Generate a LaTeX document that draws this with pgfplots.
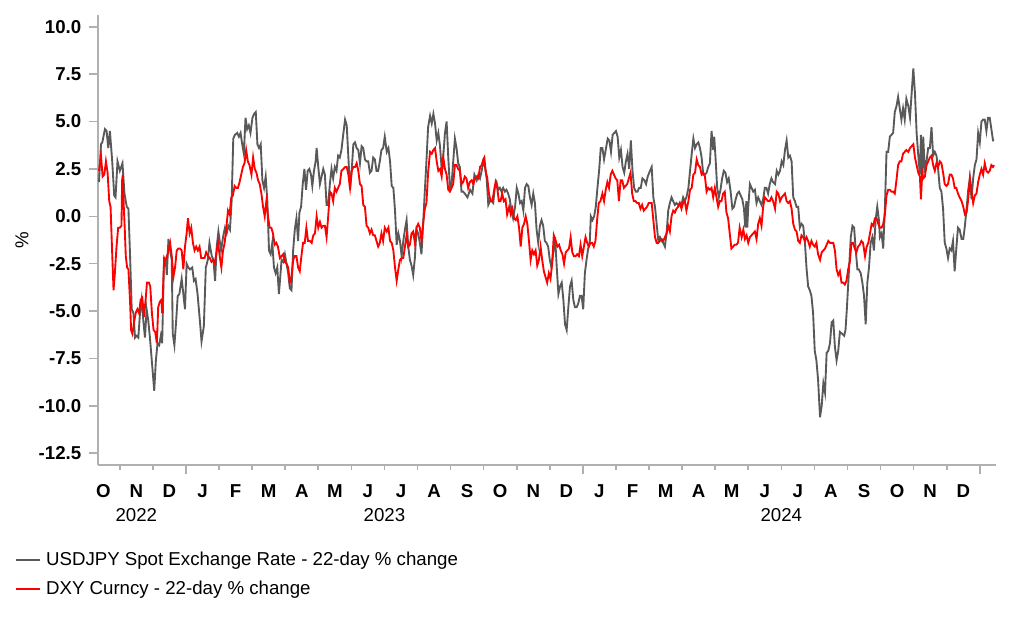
\documentclass[border=0pt]{standalone}
\usepackage{fontspec}
\setmainfont{Liberation Sans}
\usepackage{pgfplots}
\pgfplotsset{compat=1.18}
\usepackage{pgfplotstable}

\definecolor{jpygray}{RGB}{89,89,89}
\definecolor{dxyred}{RGB}{255,0,0}
\definecolor{axisgray}{RGB}{176,176,176}
\newcommand{\chartfont}{\fontsize{14}{16.5}\selectfont}

% USDJPY 22-day % change; x = months since 1 Jan 2023
\pgfplotstableread{
m v
-2.63 1.8
-2.57 3.8
-2.53 3.9
-2.45 4.6
-2.40 4.5
-2.35 3.6
-2.30 4.5
-2.23 2.9
-2.17 1.1
-2.13 1.0
-2.07 2.9
-2.00 2.4
-1.92 2.8
-1.86 1.2
-1.79 0.5
-1.74 0.4
-1.69 -2.1
-1.64 -4.9
-1.59 -5.1
-1.54 -6.4
-1.49 -6.3
-1.44 -6.4
-1.39 -5.1
-1.34 -4.4
-1.29 -5.5
-1.24 -6.4
-1.19 -4.9
-1.14 -5.5
-1.09 -6.4
-1.02 -7.9
-0.96 -9.2
-0.91 -7.6
-0.86 -6.7
-0.81 -6.8
-0.76 -6.3
-0.72 -6.7
-0.67 -2.7
-0.61 -2.3
-0.58 -3.1
-0.53 -1.2
-0.48 -1.8
-0.43 -2.3
-0.40 -6.2
-0.35 -6.8
-0.30 -5.6
-0.25 -4.2
-0.20 -4.1
-0.13 -3.3
-0.08 -4.1
-0.03 -4.9
0.02 -2.5
0.07 -2.7
0.12 -2.8
0.19 -2.7
0.24 -3.4
0.29 -3.3
0.35 -4.1
0.42 -5.5
0.47 -6.6
0.54 -5.8
0.60 -2.7
0.66 -2.3
0.71 -1.4
0.78 -2.1
0.83 -2.3
0.88 -3.4
0.93 -1.6
0.98 -0.8
1.06 -1.8
1.13 -1.0
1.18 -0.6
1.23 -0.9
1.28 -0.5
1.33 -0.7
1.38 0.8
1.43 4.1
1.48 4.3
1.55 4.4
1.60 4.2
1.65 4.4
1.70 3.8
1.75 3.3
1.80 5.2
1.85 4.6
1.90 4.8
1.95 4.4
2.01 5.2
2.06 5.4
2.11 5.5
2.16 3.8
2.21 3.6
2.26 3.8
2.31 1.9
2.36 1.5
2.41 2.1
2.46 0.8
2.51 -1.8
2.56 -2.0
2.61 -1.4
2.66 -2.7
2.71 -3.0
2.76 -2.7
2.81 -4.1
2.89 -2.3
2.94 -2.4
2.99 -2.0
3.04 -2.5
3.09 -3.0
3.14 -3.8
3.19 -3.9
3.24 -1.8
3.29 -0.7
3.34 -0.1
3.39 -1.3
3.43 0.2
3.48 0.5
3.53 1.7
3.58 2.5
3.63 1.4
3.68 2.4
3.73 2.5
3.78 2.2
3.82 1.6
3.87 2.4
3.92 2.9
3.95 3.6
4.00 2.6
4.05 1.7
4.10 2.1
4.15 2.5
4.20 2.2
4.25 0.6
4.30 0.6
4.35 1.7
4.40 2.5
4.45 2.0
4.50 2.6
4.55 2.4
4.60 3.2
4.65 3.1
4.70 3.5
4.76 4.4
4.81 5.1
4.86 4.8
4.91 3.1
4.96 1.4
5.01 2.4
5.06 3.8
5.11 3.9
5.16 3.6
5.21 3.5
5.26 2.8
5.31 3.7
5.36 3.6
5.41 3.0
5.46 2.9
5.51 2.9
5.56 2.3
5.61 2.4
5.66 3.1
5.71 3.0
5.76 2.4
5.81 2.4
5.86 2.9
5.91 3.5
5.96 3.6
6.01 4.2
6.07 3.4
6.12 3.6
6.17 2.9
6.22 1.6
6.27 1.5
6.32 0.3
6.37 -1.5
6.42 -0.9
6.47 -1.3
6.52 -2.1
6.57 -1.3
6.62 -0.7
6.67 -0.2
6.72 -1.6
6.77 -2.3
6.82 -2.6
6.87 -3.1
6.92 -2.2
6.97 -0.7
7.02 -0.9
7.07 -1.4
7.12 -2.0
7.17 -0.4
7.22 1.3
7.27 2.9
7.32 4.7
7.38 5.3
7.43 4.9
7.48 5.4
7.53 4.9
7.58 4.0
7.63 4.4
7.68 3.7
7.73 2.5
7.78 3.2
7.83 4.4
7.88 5.0
7.93 3.1
7.98 1.5
8.03 1.7
8.08 2.9
8.13 4.1
8.18 3.6
8.23 2.8
8.28 2.6
8.33 1.3
8.38 1.3
8.43 1.2
8.51 1.0
8.59 1.4
8.66 1.2
8.72 2.2
8.79 1.9
8.84 2.2
8.89 2.0
8.94 2.4
8.99 2.9
9.04 2.6
9.09 2.0
9.14 0.6
9.19 0.8
9.24 0.8
9.29 0.7
9.34 1.6
9.39 1.8
9.44 1.4
9.49 1.5
9.54 1.3
9.59 1.5
9.64 1.3
9.69 1.4
9.74 1.2
9.79 0.9
9.84 0.3
9.89 -0.1
9.95 0.5
10.00 1.5
10.05 1.2
10.10 0.7
10.15 0.8
10.20 0.3
10.25 1.5
10.30 1.7
10.35 1.6
10.40 1.0
10.45 0.6
10.50 1.2
10.55 0.7
10.60 -0.7
10.65 -1.4
10.70 -0.5
10.75 -0.2
10.80 -0.5
10.85 -1.3
10.90 -1.4
10.95 -1.6
11.00 -2.3
11.05 -2.7
11.10 -2.0
11.16 -1.1
11.21 -2.7
11.26 -4.1
11.31 -3.7
11.36 -3.5
11.41 -4.4
11.46 -5.7
11.51 -6.0
11.56 -4.8
11.61 -3.7
11.66 -3.4
11.71 -4.4
11.76 -4.8
11.81 -4.8
11.86 -4.6
11.91 -4.2
11.96 -4.2
12.01 -4.9
12.06 -3.0
12.11 -2.3
12.16 -1.7
12.21 -1.3
12.24 0.0
12.29 -0.2
12.34 0.0
12.39 0.5
12.44 1.5
12.49 2.4
12.54 3.6
12.59 3.6
12.64 3.0
12.70 3.6
12.75 4.1
12.80 4.0
12.85 3.4
12.90 4.3
12.95 4.4
13.00 4.5
13.05 4.2
13.10 3.1
13.15 3.5
13.20 2.6
13.25 2.3
13.30 2.9
13.35 3.3
13.40 2.5
13.45 4.0
13.50 2.4
13.55 1.5
13.60 1.3
13.65 1.3
13.70 1.5
13.75 1.5
13.80 2.0
13.86 1.9
13.91 1.7
13.96 2.1
14.03 2.4
14.08 2.6
14.13 1.0
14.18 0.5
14.23 -0.4
14.28 -1.3
14.33 -1.1
14.38 -1.3
14.43 -1.4
14.48 -1.6
14.53 -0.9
14.58 0.3
14.63 0.7
14.68 1.0
14.73 0.8
14.78 0.6
14.83 0.7
14.88 0.6
14.93 0.7
14.98 0.6
15.03 1.0
15.08 0.8
15.13 1.0
15.19 1.5
15.24 2.4
15.29 3.3
15.34 4.1
15.39 3.6
15.44 3.8
15.49 3.9
15.54 3.6
15.59 3.1
15.64 2.2
15.69 2.2
15.74 2.3
15.79 2.6
15.84 2.8
15.89 4.5
15.94 3.5
15.97 4.2
16.01 3.1
16.06 1.5
16.11 1.0
16.16 1.4
16.21 2.0
16.26 2.4
16.31 2.3
16.36 1.8
16.41 2.0
16.46 1.4
16.52 0.4
16.57 0.5
16.62 0.9
16.67 1.2
16.72 1.3
16.77 1.1
16.82 0.9
16.87 0.4
16.91 -0.6
16.94 0.8
16.97 -0.6
17.00 0.5
17.05 1.7
17.10 1.5
17.15 1.3
17.20 1.4
17.25 0.7
17.30 1.0
17.35 0.8
17.40 0.6
17.45 0.9
17.50 1.5
17.55 1.5
17.60 1.2
17.65 1.7
17.70 2.0
17.75 1.8
17.81 1.7
17.86 2.4
17.91 2.2
17.96 2.4
18.01 2.9
18.06 2.7
18.11 3.5
18.16 4.0
18.21 3.1
18.26 3.2
18.31 2.9
18.36 1.0
18.41 0.8
18.46 0.5
18.51 0.5
18.56 -0.6
18.61 -0.4
18.66 -0.5
18.71 -1.3
18.76 -2.7
18.81 -3.7
18.86 -3.9
18.91 -4.2
18.96 -5.1
19.01 -7.1
19.06 -7.6
19.11 -8.6
19.17 -10.6
19.22 -10.0
19.27 -8.8
19.32 -9.3
19.37 -7.2
19.42 -7.1
19.47 -6.7
19.52 -5.6
19.57 -5.5
19.62 -6.9
19.67 -7.6
19.72 -7.1
19.77 -6.1
19.84 -6.2
19.90 -6.3
19.94 -6.0
19.98 -4.9
20.04 -3.0
20.10 -1.1
20.15 -0.5
20.20 -0.6
20.25 -1.8
20.30 -2.8
20.34 -2.8
20.40 -3.0
20.45 -3.5
20.50 -4.2
20.55 -5.7
20.60 -3.5
20.65 -2.7
20.70 -1.4
20.75 -1.1
20.80 -1.8
20.85 -0.2
20.90 0.5
20.95 -0.2
20.98 -1.1
21.03 -0.9
21.08 -1.7
21.13 0.4
21.18 3.4
21.23 3.4
21.28 4.2
21.33 4.3
21.38 4.4
21.43 5.5
21.48 5.8
21.53 6.3
21.58 5.7
21.63 5.1
21.68 5.7
21.73 5.1
21.78 6.2
21.84 5.8
21.89 5.2
21.94 6.5
21.99 7.8
22.04 6.5
22.09 4.4
22.14 3.2
22.19 2.2
22.22 4.3
22.26 2.0
22.29 4.2
22.34 2.3
22.39 2.9
22.44 3.6
22.49 3.6
22.54 4.7
22.59 3.2
22.64 3.4
22.69 3.2
22.74 2.5
22.79 1.5
22.84 1.3
22.89 0.4
22.94 -1.4
22.99 -1.7
23.04 -2.2
23.09 -1.7
23.14 -1.8
23.19 -1.3
23.24 -2.9
23.29 -1.7
23.34 -0.6
23.39 -0.7
23.45 -1.2
23.50 -1.2
23.55 -0.5
23.60 0.4
23.65 1.4
23.70 2.0
23.75 0.9
23.80 2.0
23.85 2.7
23.90 3.0
23.95 4.4
24.00 3.9
24.05 5.0
24.10 5.1
24.15 5.1
24.20 4.5
24.25 5.2
24.30 5.2
24.35 4.6
24.40 4.0
24.43 4.0
}\usdjpy

% DXY 22-day % change
\pgfplotstableread{
m v
-2.63 2.4
-2.57 3.2
-2.52 2.1
-2.47 2.2
-2.42 2.9
-2.37 2.3
-2.32 0.8
-2.28 0.5
-2.23 -2.0
-2.19 -3.9
-2.15 -3.0
-2.10 -1.6
-2.05 -0.6
-2.00 -0.6
-1.95 -0.5
-1.93 1.9
-1.91 2.2
-1.88 0.5
-1.85 -0.7
-1.82 -2.1
-1.78 -2.7
-1.74 -2.8
-1.69 -4.5
-1.66 -6.0
-1.62 -6.2
-1.57 -5.6
-1.52 -5.1
-1.47 -4.9
-1.42 -5.1
-1.37 -4.4
-1.32 -4.3
-1.27 -5.3
-1.22 -4.4
-1.18 -3.5
-1.12 -3.5
-1.08 -3.7
-1.03 -5.1
-0.98 -6.0
-0.93 -6.1
-0.88 -6.7
-0.84 -4.8
-0.79 -4.5
-0.74 -4.4
-0.72 -5.1
-0.66 -2.2
-0.63 -2.3
-0.58 -2.2
-0.53 -1.8
-0.48 -1.4
-0.43 -2.1
-0.38 -3.2
-0.33 -2.7
-0.28 -1.8
-0.23 -1.7
-0.18 -1.7
-0.13 -1.8
-0.08 -2.8
-0.03 -1.6
0.02 -0.9
0.06 -0.1
0.11 -0.9
0.16 -0.6
0.21 -1.4
0.26 -1.8
0.31 -1.6
0.36 -1.8
0.41 -1.6
0.46 -2.2
0.51 -2.2
0.56 -2.2
0.61 -1.9
0.67 -2.1
0.72 -2.2
0.77 -2.4
0.82 -2.3
0.87 -2.5
0.92 -1.9
0.97 -1.4
1.02 -2.1
1.07 -2.7
1.12 -1.8
1.17 -1.4
1.22 -0.6
1.27 0.3
1.32 0.1
1.37 1.0
1.42 1.1
1.47 1.6
1.52 1.5
1.57 1.5
1.62 1.8
1.67 2.2
1.72 2.6
1.77 2.8
1.82 3.5
1.87 2.9
1.92 2.7
1.98 2.2
2.03 3.1
2.08 2.5
2.13 2.3
2.18 1.9
2.23 1.7
2.28 1.2
2.33 0.5
2.38 0.0
2.43 0.8
2.48 0.0
2.53 -0.6
2.58 -0.6
2.63 -0.9
2.68 -1.5
2.73 -1.4
2.78 -1.6
2.84 -2.2
2.89 -2.1
2.94 -2.0
2.99 -2.4
3.04 -2.5
3.09 -2.7
3.14 -3.5
3.19 -3.2
3.24 -2.3
3.29 -2.1
3.34 -2.1
3.39 -2.7
3.44 -2.9
3.49 -2.1
3.54 -1.4
3.59 -1.4
3.64 -0.6
3.69 -1.3
3.75 -1.3
3.80 -1.4
3.85 -1.0
3.90 -0.9
3.95 0.0
4.00 -0.6
4.05 -0.3
4.10 -0.6
4.15 -0.5
4.20 -0.5
4.25 -1.1
4.30 0.0
4.35 1.3
4.40 1.2
4.45 0.8
4.50 1.5
4.55 1.3
4.60 1.5
4.65 1.7
4.70 2.4
4.76 2.5
4.81 2.6
4.86 2.6
4.91 2.2
4.96 1.5
5.01 2.4
5.06 2.6
5.11 2.6
5.16 2.8
5.21 2.4
5.26 1.7
5.31 1.6
5.36 0.6
5.41 0.5
5.46 -0.5
5.51 -0.6
5.56 -0.9
5.61 -0.7
5.66 -1.0
5.71 -1.0
5.76 -1.3
5.81 -1.6
5.86 -1.4
5.91 -0.9
5.96 -1.3
6.01 -0.6
6.07 -0.8
6.12 -0.6
6.17 -1.3
6.22 -1.4
6.27 -1.8
6.32 -2.7
6.37 -3.4
6.42 -2.8
6.47 -2.3
6.52 -2.2
6.57 -2.2
6.62 -1.6
6.67 -1.0
6.72 -1.6
6.77 -1.5
6.82 -0.9
6.87 -0.8
6.92 -1.4
6.97 -0.6
7.02 -0.4
7.07 -0.6
7.12 -1.3
7.17 -0.4
7.22 0.4
7.27 0.7
7.32 2.3
7.38 3.4
7.43 3.3
7.48 3.5
7.53 3.6
7.58 2.9
7.63 2.4
7.68 2.5
7.73 2.1
7.78 3.1
7.83 2.5
7.88 2.2
7.93 1.4
7.98 1.3
8.03 1.5
8.08 1.7
8.13 2.7
8.18 2.7
8.23 2.5
8.28 2.4
8.33 1.7
8.38 1.8
8.43 2.1
8.48 2.0
8.53 1.5
8.58 1.8
8.64 1.9
8.69 1.7
8.74 2.0
8.79 2.1
8.84 2.0
8.89 2.6
8.94 2.7
8.99 3.0
9.02 3.1
9.06 2.4
9.11 2.0
9.16 1.2
9.21 0.8
9.26 0.8
9.31 1.3
9.36 1.8
9.41 1.5
9.46 0.8
9.51 0.8
9.56 1.2
9.61 0.8
9.66 0.9
9.71 0.1
9.77 0.5
9.82 0.1
9.87 0.4
9.92 -0.1
9.97 -0.2
10.02 0.0
10.07 -0.6
10.12 -1.6
10.17 -0.6
10.22 -0.4
10.27 0.0
10.32 -0.4
10.37 -1.3
10.42 -2.3
10.47 -1.8
10.52 -2.0
10.57 -1.8
10.62 -2.6
10.67 -2.3
10.72 -1.6
10.77 -2.3
10.82 -2.9
10.87 -3.2
10.92 -3.5
10.97 -3.0
11.02 -3.3
11.07 -2.5
11.12 -1.0
11.18 -1.3
11.23 -1.6
11.28 -1.5
11.33 -1.8
11.38 -2.0
11.43 -2.5
11.48 -1.9
11.53 -1.8
11.58 -1.7
11.63 -1.1
11.68 -1.9
11.73 -2.1
11.78 -2.1
11.83 -2.0
11.88 -2.1
11.93 -1.5
11.98 -2.1
12.03 -1.6
12.08 -1.1
12.13 -1.4
12.18 -1.6
12.23 -1.4
12.28 -1.4
12.33 -1.6
12.38 -1.3
12.43 -0.2
12.48 0.7
12.53 0.8
12.59 1.2
12.64 0.8
12.69 1.4
12.74 1.8
12.79 1.5
12.84 2.2
12.89 2.4
12.94 2.2
12.99 2.0
13.04 1.9
13.09 0.8
13.14 1.9
13.19 1.9
13.24 1.5
13.29 1.6
13.34 1.7
13.39 2.0
13.44 2.3
13.49 1.2
13.54 0.8
13.59 0.8
13.64 0.7
13.69 0.7
13.74 0.4
13.79 0.6
13.84 0.3
13.89 0.4
13.94 0.5
13.99 0.7
14.03 0.7
14.08 0.7
14.13 -0.2
14.18 -1.1
14.23 -1.4
14.28 -1.4
14.33 -1.3
14.38 -1.2
14.43 -1.3
14.48 -1.1
14.53 -0.9
14.58 -0.5
14.63 -0.8
14.68 0.0
14.73 0.3
14.78 0.2
14.83 0.4
14.88 0.5
14.93 0.7
14.98 0.4
15.03 0.7
15.08 0.8
15.13 0.3
15.19 0.8
15.24 1.4
15.29 1.5
15.34 2.2
15.39 2.3
15.44 3.0
15.49 2.7
15.54 2.6
15.59 2.2
15.64 2.3
15.69 2.1
15.74 1.3
15.79 1.5
15.84 1.4
15.89 1.5
15.94 1.0
15.99 1.5
16.04 1.0
16.09 0.5
16.14 0.8
16.19 0.8
16.24 1.2
16.29 1.3
16.34 0.2
16.39 -0.1
16.44 -0.9
16.49 -1.7
16.54 -1.6
16.59 -1.5
16.64 -1.5
16.69 -1.4
16.74 -0.6
16.80 -1.1
16.85 -0.7
16.90 -1.2
16.95 -1.0
17.00 -1.4
17.05 -1.1
17.10 -1.0
17.15 -0.9
17.20 -0.8
17.25 -1.2
17.30 -0.4
17.35 -0.1
17.40 -0.5
17.45 0.5
17.50 1.0
17.55 0.9
17.60 0.8
17.65 0.8
17.70 1.0
17.75 0.8
17.81 0.4
17.86 1.3
17.91 1.2
17.96 0.8
18.01 1.0
18.06 1.1
18.11 1.2
18.16 0.8
18.21 0.7
18.26 0.8
18.31 0.4
18.36 -0.4
18.41 -0.7
18.46 -0.8
18.51 -1.3
18.56 -1.4
18.61 -1.0
18.66 -1.1
18.71 -1.3
18.76 -1.1
18.81 -1.3
18.86 -1.6
18.91 -1.3
18.96 -1.5
19.01 -1.6
19.06 -1.4
19.11 -2.0
19.17 -2.3
19.22 -1.9
19.27 -1.8
19.32 -1.7
19.37 -1.5
19.42 -1.3
19.47 -1.4
19.52 -1.4
19.57 -1.4
19.62 -1.8
19.67 -2.8
19.72 -3.1
19.77 -2.9
19.82 -3.5
19.87 -3.5
19.92 -3.6
19.97 -3.4
20.02 -2.8
20.07 -2.4
20.12 -1.4
20.17 -1.4
20.22 -1.7
20.27 -1.9
20.32 -1.6
20.37 -1.5
20.42 -1.3
20.47 -1.4
20.53 -2.1
20.58 -1.6
20.63 -1.4
20.68 -0.9
20.73 -0.4
20.78 -0.5
20.83 -0.1
20.88 -0.1
20.93 -0.4
20.98 -0.6
21.03 -0.6
21.08 -0.4
21.13 0.1
21.18 1.1
21.23 1.4
21.28 1.4
21.33 1.3
21.38 1.3
21.43 1.2
21.48 1.9
21.53 2.7
21.58 2.9
21.63 2.9
21.68 3.3
21.73 3.4
21.78 3.5
21.84 3.4
21.89 3.6
21.94 3.7
21.99 3.8
22.04 3.1
22.09 2.7
22.14 2.3
22.19 2.1
22.22 0.9
22.26 2.3
22.29 2.0
22.34 2.1
22.39 2.7
22.44 2.9
22.49 3.1
22.54 3.2
22.59 2.7
22.64 2.4
22.69 2.8
22.74 2.6
22.79 2.9
22.84 2.8
22.89 2.3
22.94 1.7
22.99 1.6
23.04 1.7
23.09 2.2
23.14 2.2
23.19 2.0
23.24 1.5
23.29 1.5
23.34 1.2
23.39 1.0
23.45 0.8
23.50 0.5
23.55 0.1
23.60 0.2
23.65 0.9
23.70 2.0
23.75 1.3
23.80 0.7
23.85 1.1
23.90 1.2
23.95 1.8
24.00 2.2
24.05 2.5
24.10 2.2
24.15 2.8
24.20 2.4
24.25 2.3
24.30 2.4
24.35 2.7
24.40 2.6
24.43 2.7
}\dxy

\begin{document}
\begin{tikzpicture}[x=1pt,y=1pt]
\begin{axis}[
  at={(0pt,0pt)}, anchor=south west,
  scale only axis,
  width=673.5pt, height=337.5pt,
  xmin=-2.66, xmax=24.49,
  ymin=-13.12, ymax=10.62,
  clip mode=individual,
  axis lines=left,
  axis line style={-, draw=axisgray, line width=1.2pt},
  tick align=outside,
  tick style={draw=axisgray, line width=1.2pt},
  major tick length=6.75pt,
  minor tick length=3.75pt,
  ytick={-12.5,-10,...,10},
  yticklabel style={font=\chartfont\bfseries, xshift=-2.25pt,
    /pgf/number format/.cd, fixed, fixed zerofill, precision=1,
    assume math mode=true},
  xtick={0,12,24},
  xticklabels={,,},
  minor xtick={-2,-1,1,2,3,4,5,6,7,8,9,10,11,13,14,15,16,17,18,19,20,21,22,23},
  extra x ticks={-2.5,-1.5,...,23.5},
  extra x tick labels={O,N,D,J,F,M,A,M,J,J,A,S,O,N,D,J,F,M,A,M,J,J,A,S,O,N,D},
  extra x tick style={tick style={draw=none}},
  xticklabel style={font=\chartfont\bfseries, yshift=-4.5pt},
  ylabel={\%},
  ylabel style={at={(axis description cs:-0.0846,0.5)}, anchor=center,
    font=\chartfont},
  legend cell align=left,
  legend image code/.code={\draw[#1] (0pt,0pt) -- (18pt,0pt);},
  legend style={at={(axis description cs:-0.0932,-0.1875)}, anchor=north west,
    draw=none, fill=none, inner sep=0pt,
    font=\chartfont,
    nodes={inner sep=2pt}, row sep=6.0pt,
    /tikz/every odd column/.append style={column sep=2.25pt}},
]
\addplot[color=jpygray, line width=1.4pt] table[x=m, y=v] {\usdjpy};
\addlegendentry{USDJPY Spot Exchange Rate - 22-day \% change}
\addplot[color=dxyred, line width=1.4pt] table[x=m, y=v] {\dxy};
\addlegendentry{DXY Curncy - 22-day \% change}

\node[font=\chartfont] at ({axis cs:-1.5,0} |- {rel axis cs:0,0}) [yshift=-37.5pt] {2022};
\node[font=\chartfont] at ({axis cs:6,0} |- {rel axis cs:0,0}) [yshift=-37.5pt] {2023};
\node[font=\chartfont] at ({axis cs:18,0} |- {rel axis cs:0,0}) [yshift=-37.5pt] {2024};
\end{axis}
\pgfresetboundingbox
\path (-73.5pt,-120.75pt) rectangle (693pt,348.75pt);
\end{tikzpicture}
\end{document}
